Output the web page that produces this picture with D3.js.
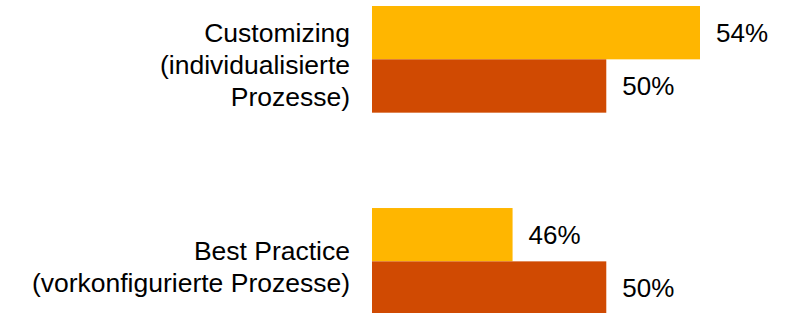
<!DOCTYPE html>
<html>
<head>
<meta charset="utf-8">
<script src="https://cdn.jsdelivr.net/npm/d3@7.9.0/dist/d3.min.js"></script>
<style>
    body { margin: 0; background: #fff; }
    svg { display: block; font-family: Arial, 'Liberation Sans', sans-serif; }
</style>
</head>
<body>
<div id="chart"></div>
<script>
// categories, each label split into its lines
const categories = ['Customizing', 'Best Practice'];
const categoryLines = [
    ['Customizing', '(individualisierte', 'Prozesse)'],
    ['Best Practice', '(vorkonfigurierte Prozesse)'],
];
const seriesNames = ['a', 'b'];
const seriesA = [54, 46];
const seriesB = [50, 50];
const colors = ['#FFB600', '#D04A02'];

const width = 800;
const height = 313;

const rows = categories.map((c, i) => ({
    category: c,
    lines: categoryLines[i],
    values: [seriesA[i], seriesB[i]],
}));

const svg = d3
    .select('#chart')
    .append('svg')
    .attr('width', width)
    .attr('height', height);

// value axis starts at 40%, not zero
const xScale = d3.scaleLinear().domain([40, 54]).range([372, 700]);

const yScale = d3
    .scaleBand()
    .domain(categories)
    .range([6, 314.7])
    .paddingInner(0.472)
    .paddingOuter(0);

const ySub = d3
    .scaleBand()
    .domain(seriesNames)
    .range([0, yScale.bandwidth()]);

const groups = svg
    .selectAll('g.group')
    .data(rows)
    .join('g')
    .attr('class', 'group')
    .attr('transform', (d) => `translate(0, ${yScale(d.category)})`);

const bars = groups
    .selectAll('g.bar')
    .data((d) => d.values.map((v, j) => ({ key: seriesNames[j], value: v, color: colors[j] })))
    .join('g')
    .attr('class', 'bar');

bars.append('rect')
    .attr('x', xScale(40))
    .attr('y', (d) => ySub(d.key))
    .attr('width', (d) => xScale(d.value) - xScale(40))
    .attr('height', ySub.bandwidth())
    .attr('fill', (d) => d.color);

bars.append('text')
    .attr('x', (d) => xScale(d.value) + 16)
    .attr('y', (d) => ySub(d.key) + ySub.bandwidth() / 2)
    .attr('dy', '0.36em')
    .attr('font-size', 26)
    .attr('fill', '#000')
    .text((d) => d.value + '%');

// category labels, right aligned next to the bars
const lineHeight = 32;
groups.append('text')
    .attr('text-anchor', 'end')
    .attr('font-size', 26.5)
    .attr('fill', '#000')
    .selectAll('tspan')
    .data((d) => d.lines.map((l, k) => ({ text: l, k, n: d.lines.length })))
    .join('tspan')
    .attr('x', 350)
    .attr('y', (d) => yScale.bandwidth() / 2 + (d.k - (d.n - 1) / 2) * lineHeight + 5)
    .attr('dy', '0.36em')
    .text((d) => d.text);
</script>
</body>
</html>
